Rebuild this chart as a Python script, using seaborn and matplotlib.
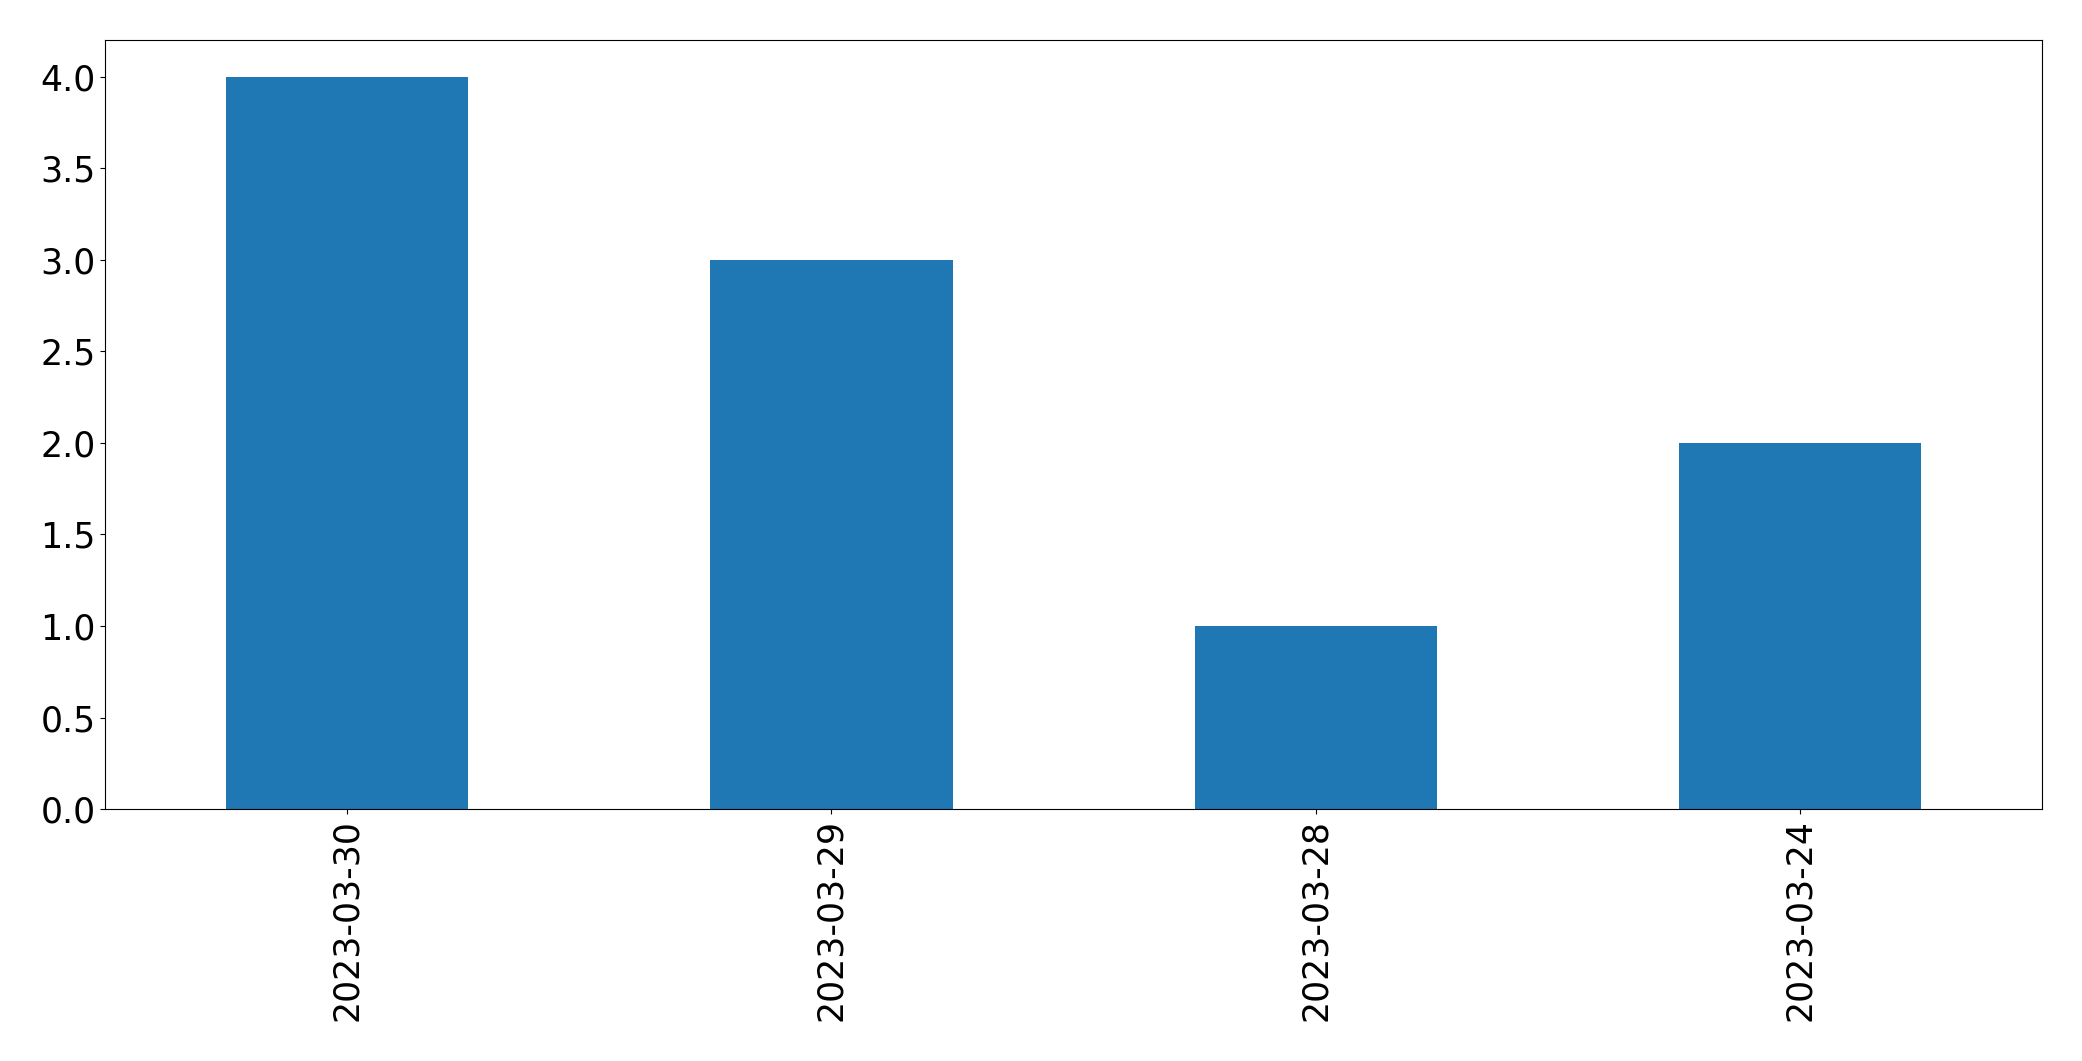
import pandas as pd
import seaborn as sns
import matplotlib.pyplot as plt

# counts per date
dates = ['2023-03-30', '2023-03-29', '2023-03-28', '2023-03-24']
counts = [4, 3, 1, 2]

df = pd.DataFrame({'date': dates, 'count': counts})

fig = plt.figure(figsize=(20.82, 10.61), dpi=100)
ax = fig.add_axes([0.0505, 0.2375, 0.9303, 0.7245])
sns.barplot(data=df, x='date', y='count', color='#1f77b4', saturation=1,
            width=0.5, ax=ax, order=dates)
ax.set_xlim(-0.5, len(dates) - 0.5)
ax.set_ylim(0, 4.2)
ax.set_xlabel('')
ax.set_ylabel('')
ax.tick_params(axis='both', labelsize=25)
ax.tick_params(axis='x', labelrotation=90)
fig.savefig('out.png', dpi=100)
